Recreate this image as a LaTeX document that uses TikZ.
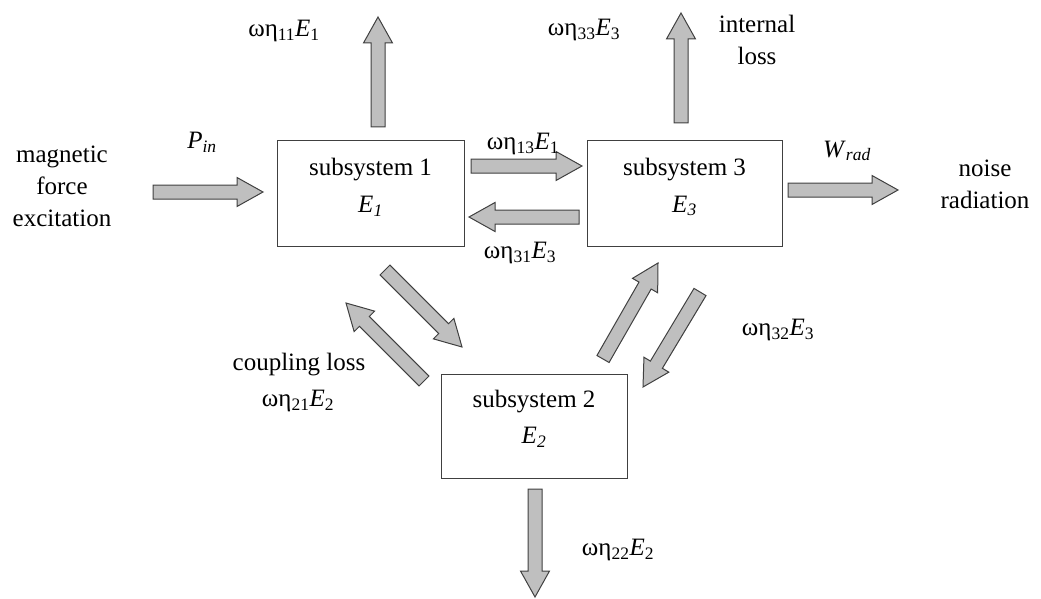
\documentclass[tikz,border=0pt]{standalone}
\usepackage{fontspec}
\setmainfont{Liberation Serif}
\usetikzlibrary{calc}
\tikzset{
  sysbox/.style={draw=black!75, line width=1pt, rectangle, inner sep=0pt},
  lbl/.style={font=\fontsize{25}{32}\selectfont, inner sep=0pt, align=center},
  barrowstyle/.style={draw=black!75, line width=1pt, fill=black!25, line join=miter}
}
\newcommand\blockarrow[2]{%
  \coordinate (hb) at ($(#2)!26pt!(#1)$);
  \draw[barrowstyle] ($(#1)!7pt!-90:(#2)$) -- ($(hb)!7pt!-90:(#2)$) -- ($(hb)!14.5pt!-90:(#2)$) -- (#2) -- ($(hb)!14.5pt!90:(#2)$) -- ($(hb)!7pt!90:(#2)$) -- ($(#1)!7pt!90:(#2)$) -- cycle;
}
\newcommand\we[3]{ωη\textsubscript{#1}\textit{E}\textsubscript{#2}#3}
\begin{document}
\begin{tikzpicture}[x=1pt,y=-1pt]
\path[use as bounding box] (0,0) rectangle (1041,599);
% boxes
\node[sysbox, minimum width=187pt, minimum height=105pt] (b1) at (370.5,193.5) {};
\node[sysbox, minimum width=195pt, minimum height=105pt] (b3) at (684.5,193.5) {};
\node[sysbox, minimum width=186pt, minimum height=104pt] (b2) at (534,426) {};
% box texts
\node[lbl] (t1) at (370.5,170) {subsystem 1};
\node[lbl] (e1) at (370.5,206) {\textit{E}\textsubscript{\textit{1}}};
\node[lbl] (t3) at (684.5,170) {subsystem 3};
\node[lbl] (e3) at (684.5,206) {\textit{E}\textsubscript{\textit{3}}};
\node[lbl] (t2) at (534,402) {subsystem 2};
\node[lbl] (e2) at (534,437) {\textit{E}\textsubscript{\textit{2}}};
% arrow end points
\coordinate (a11s) at (378,127); \coordinate (a11e) at (378,17);
\coordinate (a33s) at (681,123); \coordinate (a33e) at (681,13);
\coordinate (pins) at (153,192); \coordinate (pine) at (263,192);
\coordinate (a13s) at (471,166); \coordinate (a13e) at (582,166);
\coordinate (a31s) at (579,217); \coordinate (a31e) at (469,217);
\coordinate (wrs) at (788,190);  \coordinate (wre) at (898,190);
\coordinate (d12s) at (385,270); \coordinate (d12e) at (462,347);
\coordinate (d21s) at (424,381); \coordinate (d21e) at (346,303);
\coordinate (d23s) at (603,359); \coordinate (d23e) at (658,263);
\coordinate (d32s) at (700,292); \coordinate (d32e) at (643,387);
\coordinate (a22s) at (535,489); \coordinate (a22e) at (535,597);
\blockarrow{a11s}{a11e}
\blockarrow{a33s}{a33e}
\blockarrow{pins}{pine}
\blockarrow{a13s}{a13e}
\blockarrow{a31s}{a31e}
\blockarrow{wrs}{wre}
\blockarrow{d12s}{d12e}
\blockarrow{d21s}{d21e}
\blockarrow{d23s}{d23e}
\blockarrow{d32s}{d32e}
\blockarrow{a22s}{a22e}
% labels
\node[lbl] (l11) at (284,31) {\we{11}{1}{}};
\node[lbl] (l33) at (584,30) {\we{33}{3}{}};
\node[lbl] (lint) at (757,40) {internal\\loss};
\node[lbl] (lmag) at (62,186) {magnetic\\force\\excitation};
\node[lbl] (lpin) at (202,142) {\textit{P}\textsubscript{\textit{in}}};
\node[lbl] (l13) at (523,144) {\we{13}{1}{}};
\node[lbl] (l31) at (520,253) {\we{31}{3}{}};
\node[lbl] (lw) at (847,151) {\textit{W}\textsubscript{\textit{rad}}};
\node[lbl] (lnoise) at (985,184) {noise\\radiation};
\node[lbl] (l32) at (778,330) {\we{32}{3}{}};
\node[lbl] (lcl) at (299,365) {coupling loss};
\node[lbl] (l21) at (298,401) {\we{21}{2}{}};
\node[lbl] (l22) at (618,550) {\we{22}{2}{}};
\end{tikzpicture}
\end{document}
